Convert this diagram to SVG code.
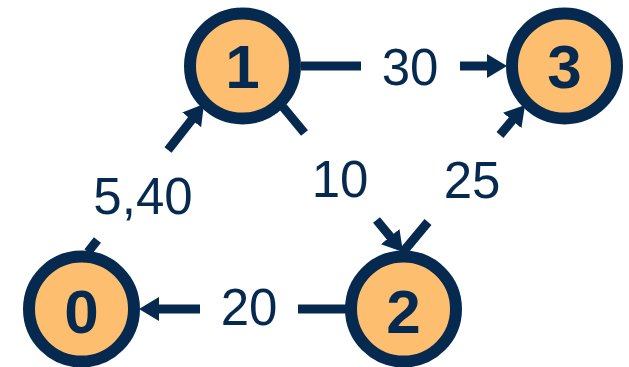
<svg xmlns="http://www.w3.org/2000/svg" width="629" height="367" viewBox="0 0 629 367">
<style>
.edge{stroke:#062a4f;stroke-width:9;fill:none}
.node circle{fill:#fdbf6f;stroke:#062a4f;stroke-width:12}
.node text{font-family:"Liberation Sans",Arial,sans-serif;font-weight:bold;font-size:62px;fill:#062a4f;text-anchor:middle}
.lbl{font-family:"Liberation Sans",Arial,sans-serif;font-size:51px;fill:#062a4f;text-anchor:middle}
</style>
<defs>
<marker id="arr" markerUnits="userSpaceOnUse" markerWidth="24" markerHeight="28" viewBox="0 -14 24 28" refX="2" refY="0" orient="auto">
<path d="M0,-12 L20,0 L0,12 Z" fill="#062a4f"/>
</marker>
</defs>
<g id="connectors">
<line class="edge" x1="301" y1="66" x2="361" y2="66"/>
<line class="edge" x1="460" y1="66" x2="489" y2="66" marker-end="url(#arr)"/>
<line class="edge" x1="346" y1="309" x2="298" y2="309"/>
<line class="edge" x1="200" y1="309" x2="157" y2="309" marker-end="url(#arr)"/>
<line class="edge" x1="88" y1="252" x2="97.4" y2="240"/>
<line class="edge" x1="168" y1="150" x2="192.9" y2="118.2" marker-end="url(#arr)"/>
<line class="edge" x1="283" y1="107" x2="304.5" y2="133"/>
<line class="edge" x1="376.5" y1="220" x2="391.5" y2="238.1" marker-end="url(#arr)"/>
<line class="edge" x1="403" y1="252" x2="428" y2="222"/>
<line class="edge" x1="500" y1="135" x2="513.5" y2="118.9" marker-end="url(#arr)"/>
<text class="lbl" x="410" y="85">30</text>
<text class="lbl" x="143" y="214">5,40</text>
<text class="lbl" x="340" y="197">10</text>
<text class="lbl" x="472" y="198">25</text>
<text class="lbl" x="249" y="325">20</text>
</g>
<g id="node0" class="node"><circle cx="81.5" cy="309" r="52.5"/><text x="81.5" y="333">0</text></g>
<g id="node1" class="node"><circle cx="242.5" cy="66" r="52.5"/><text x="242.5" y="88">1</text></g>
<g id="node2" class="node"><circle cx="403.5" cy="309" r="52.5"/><text x="403.5" y="333">2</text></g>
<g id="node3" class="node"><circle cx="564.5" cy="66" r="52.5"/><text x="564.5" y="88">3</text></g>
</svg>
